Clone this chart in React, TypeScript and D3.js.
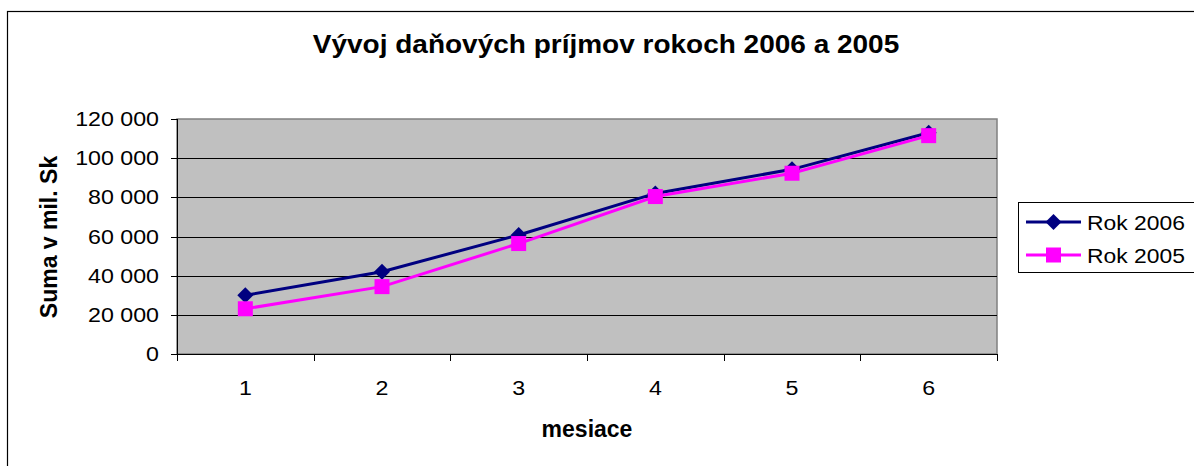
import React, { useRef, useEffect } from 'react'
import * as d3 from 'd3'

const mesiace = ['1', '2', '3', '4', '5', '6']
const rok2006 = [30000, 42000, 60800, 82000, 94300, 113000]
const rok2005 = [23100, 34400, 56400, 80400, 92300, 111500]
const yTicks = [0, 20000, 40000, 60000, 80000, 100000, 120000]
const seriesNames = ['Rok 2006', 'Rok 2005']

const FONT = '"Liberation Sans", Arial, sans-serif'

const fmt = d3.formatLocale({
  decimal: ',',
  thousands: ' ',
  grouping: [3],
  currency: ['', ''],
}).format(',d')

export default function App() {
  const svgRef = useRef<SVGSVGElement>(null)

  useEffect(() => {
    if (!svgRef.current) return
    const svg = d3.select(svgRef.current)
    svg.selectAll('*').remove()

    const W = 1194
    const H = 466
    const plot = { left: 177, right: 997, top: 119, bottom: 354 }

    // text in the original is stretched sideways, so scale x a bit
    const label = (
      x: number,
      y: number,
      txt: string,
      size: number,
      sx: number,
      anchor: string,
      bold = false,
    ) =>
      svg
        .append('text')
        .attr('transform', `translate(${x},${y}) scale(${sx},1)`)
        .attr('text-anchor', anchor)
        .attr('font-family', FONT)
        .attr('font-size', size)
        .attr('font-weight', bold ? 'bold' : 'normal')
        .attr('fill', '#000')
        .text(txt)

    // outer chart frame (runs off the right and bottom edge)
    svg
      .append('rect')
      .attr('x', 7.5)
      .attr('y', 11.5)
      .attr('width', W + 20)
      .attr('height', H + 20)
      .attr('fill', '#fff')
      .attr('stroke', '#000')
      .attr('stroke-width', 1.2)

    const x = d3
      .scaleBand()
      .domain(mesiace)
      .range([plot.left, plot.right])
      .padding(0)

    const y = d3
      .scaleLinear()
      .domain([0, 120000])
      .range([plot.bottom, plot.top])

    const cx = (i: number) => (x(mesiace[i]) as number) + x.bandwidth() / 2

    // plot background
    svg
      .append('rect')
      .attr('x', plot.left)
      .attr('y', plot.top)
      .attr('width', plot.right - plot.left)
      .attr('height', plot.bottom - plot.top)
      .attr('fill', '#c0c0c0')
      .attr('stroke', '#808080')
      .attr('stroke-width', 1.5)

    // gridlines
    svg
      .append('g')
      .selectAll('line')
      .data(yTicks.filter((t) => t > 0 && t < 120000))
      .join('line')
      .attr('x1', plot.left)
      .attr('x2', plot.right)
      .attr('y1', (d) => Math.round(y(d)) + 0.5)
      .attr('y2', (d) => Math.round(y(d)) + 0.5)
      .attr('stroke', '#000')
      .attr('stroke-width', 1)

    // y axis
    svg
      .append('line')
      .attr('x1', plot.left + 0.5)
      .attr('x2', plot.left + 0.5)
      .attr('y1', plot.top)
      .attr('y2', plot.bottom)
      .attr('stroke', '#000')
    svg
      .append('g')
      .selectAll('line')
      .data(yTicks)
      .join('line')
      .attr('x1', plot.left - 6)
      .attr('x2', plot.left)
      .attr('y1', (d) => Math.round(y(d)) + 0.5)
      .attr('y2', (d) => Math.round(y(d)) + 0.5)
      .attr('stroke', '#000')
    yTicks.forEach((t) => label(159, y(t) + 7, fmt(t), 20, 1.16, 'end'))

    // x axis
    svg
      .append('line')
      .attr('x1', plot.left)
      .attr('x2', plot.right)
      .attr('y1', plot.bottom + 0.5)
      .attr('y2', plot.bottom + 0.5)
      .attr('stroke', '#000')
    const bounds = [...mesiace.map((m) => x(m) as number), plot.right]
    svg
      .append('g')
      .selectAll('line')
      .data(bounds)
      .join('line')
      .attr('x1', (d) => Math.round(d) + 0.5)
      .attr('x2', (d) => Math.round(d) + 0.5)
      .attr('y1', plot.bottom)
      .attr('y2', plot.bottom + 7)
      .attr('stroke', '#000')
    mesiace.forEach((m, i) => label(cx(i), 395, m, 20, 1.16, 'middle'))

    // series
    const line = d3
      .line<number>()
      .x((_, i) => cx(i))
      .y((d) => y(d))

    svg
      .append('path')
      .datum(rok2006)
      .attr('d', line)
      .attr('fill', 'none')
      .attr('stroke', '#000080')
      .attr('stroke-width', 3)

    svg
      .append('path')
      .datum(rok2005)
      .attr('d', line)
      .attr('fill', 'none')
      .attr('stroke', '#ff00ff')
      .attr('stroke-width', 3)

    const diamond = (px: number, py: number, r: number) =>
      `M${px},${py - r}L${px + r},${py}L${px},${py + r}L${px - r},${py}Z`

    svg
      .append('g')
      .selectAll('path')
      .data(rok2006)
      .join('path')
      .attr('d', (d, i) => diamond(cx(i), y(d), 8))
      .attr('fill', '#000080')

    svg
      .append('g')
      .selectAll('rect')
      .data(rok2005)
      .join('rect')
      .attr('x', (d, i) => cx(i) - 7.5)
      .attr('y', (d) => y(d) - 7.5)
      .attr('width', 15)
      .attr('height', 15)
      .attr('fill', '#ff00ff')

    // titles
    label(606, 53, 'Vývoj daňových príjmov rokoch 2006 a 2005', 25, 1.12, 'middle', true)
    label(587, 437, 'mesiace', 23, 1.0, 'middle', true)
    svg
      .append('text')
      .attr('transform', 'translate(57,237) rotate(-90)')
      .attr('text-anchor', 'middle')
      .attr('font-family', FONT)
      .attr('font-size', 23)
      .attr('font-weight', 'bold')
      .text('Suma v mil. Sk')

    // legend
    svg
      .append('rect')
      .attr('x', 1018.5)
      .attr('y', 202.5)
      .attr('width', 200)
      .attr('height', 70)
      .attr('fill', '#fff')
      .attr('stroke', '#000')
      .attr('stroke-width', 1)

    const legendRows = [
      { name: seriesNames[0], color: '#000080', marker: 'diamond', y: 222 },
      { name: seriesNames[1], color: '#ff00ff', marker: 'square', y: 255 },
    ]
    legendRows.forEach((r) => {
      svg
        .append('line')
        .attr('x1', 1026)
        .attr('x2', 1081)
        .attr('y1', r.y)
        .attr('y2', r.y)
        .attr('stroke', r.color)
        .attr('stroke-width', 3)
      if (r.marker === 'diamond') {
        svg.append('path').attr('d', diamond(1053.5, r.y, 8)).attr('fill', r.color)
      } else {
        svg
          .append('rect')
          .attr('x', 1046)
          .attr('y', r.y - 7.5)
          .attr('width', 15)
          .attr('height', 15)
          .attr('fill', r.color)
      }
      label(1087, r.y + 7.5, r.name, 21, 1.09, 'start')
    })
  }, [])

  return (
    <svg
      ref={svgRef}
      width={1194}
      height={466}
      style={{ position: 'absolute', left: 0, top: 0, background: '#fff' }}
    />
  )
}
